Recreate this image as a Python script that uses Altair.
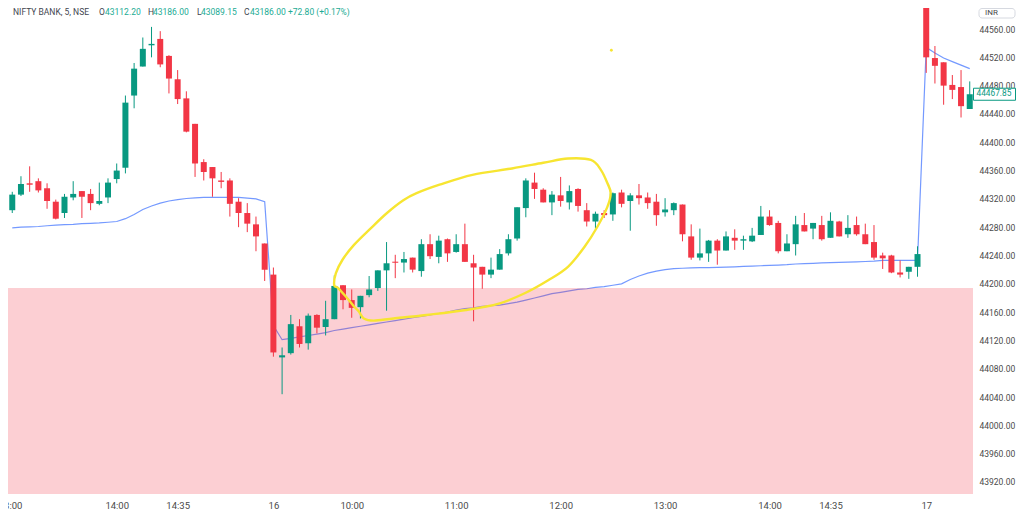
import altair as alt
import numpy as np
import pandas as pd

# ---------------- data ----------------
opens = [44304, 44326, 44342, 44345, 44335, 44316, 44300, 44322, 44331, 44327,
         44313, 44322, 44348, 44364, 44466, 44507, 44537, 44546, 44522, 44489,
         44462, 44426, 44372, 44365, 44346, 44346, 44316, 44300, 44284, 44257,
         44213, 44096, 44102, 44140, 44116, 44156, 44139, 44150, 44198, 44177,
         44167, 44184, 44194, 44219, 44231, 44230, 44237, 44218, 44256, 44238,
         44263, 44245, 44256, 44229, 44224, 44213, 44220, 44243, 44264, 44307,
         44343, 44333, 44315, 44325, 44315, 44334, 44304, 44288, 44300, 44298,
         44329, 44317, 44325, 44322, 44316, 44301, 44304, 44312, 44267, 44237,
         44243, 44261, 44247, 44265, 44261, 44260, 44269, 44295, 44286, 44246,
         44256, 44283, 44278, 44283, 44265, 44288, 44270, 44283, 44270, 44259,
         44240, 44240, 44216, 44217, 44224, 44591, 44519, 44513, 44481, 44478,
         44447]
highs = [44330, 44352, 44366, 44349, 44342, 44319, 44327, 44345, 44331, 44334,
         44343, 44349, 44370, 44466, 44512, 44548, 44563, 44557, 44523, 44502,
         44472, 44426, 44376, 44365, 44358, 44349, 44321, 44314, 44295, 44257,
         44223, 44110, 44156, 44150, 44158, 44157, 44176, 44212, 44198, 44192,
         44183, 44211, 44219, 44259, 44241, 44245, 44237, 44263, 44270, 44268,
         44264, 44270, 44285, 44241, 44224, 44237, 44249, 44270, 44308, 44349,
         44357, 44335, 44331, 44351, 44339, 44335, 44314, 44302, 44304, 44329,
         44333, 44328, 44341, 44329, 44327, 44321, 44315, 44312, 44284, 44278,
         44262, 44263, 44274, 44277, 44268, 44279, 44310, 44304, 44289, 44270,
         44296, 44300, 44286, 44296, 44301, 44289, 44297, 44295, 44285, 44283,
         44244, 44241, 44233, 44224, 44253, 44591, 44536, 44513, 44495, 44502,
         44486]
lows = [44300, 44324, 44330, 44329, 44306, 44291, 44293, 44318, 44293, 44304,
        44311, 44314, 44342, 44356, 44448, 44507, 44520, 44506, 44469, 44454,
        44414, 44351, 44346, 44323, 44335, 44295, 44280, 44273, 44246, 44204,
        44097, 44044, 44100, 44110, 44107, 44130, 44127, 44150, 44164, 44152,
        44151, 44181, 44190, 44162, 44208, 44216, 44216, 44210, 44235, 44229,
        44231, 44244, 44231, 44147, 44193, 44208, 44220, 44240, 44261, 44294,
        44320, 44315, 44297, 44309, 44305, 44302, 44281, 44278, 44293, 44289,
        44308, 44275, 44312, 44306, 44282, 44295, 44297, 44260, 44234, 44233,
        44231, 44227, 44247, 44248, 44248, 44259, 44269, 44282, 44243, 44246,
        44240, 44274, 44263, 44261, 44265, 44267, 44265, 44268, 44256, 44234,
        44221, 44215, 44209, 44207, 44210, 44498, 44483, 44453, 44461, 44435,
        44447]
closes = [44326, 44341, 44340, 44332, 44317, 44292, 44323, 44327, 44323, 44314,
          44317, 44343, 44360, 44456, 44504, 44532, 44539, 44510, 44490, 44461,
          44415, 44370, 44358, 44349, 44344, 44313, 44300, 44285, 44267, 44220,
          44103, 44099, 44143, 44115, 44155, 44138, 44150, 44197, 44177, 44166,
          44183, 44192, 44219, 44229, 44230, 44235, 44220, 44256, 44239, 44261,
          44243, 44256, 44231, 44223, 44213, 44220, 44242, 44263, 44308, 44346,
          44334, 44315, 44326, 44317, 44331, 44310, 44288, 44299, 44297, 44328,
          44313, 44325, 44321, 44314, 44297, 44305, 44314, 44270, 44237, 44243,
          44261, 44247, 44267, 44261, 44263, 44268, 44295, 44283, 44246, 44257,
          44284, 44274, 44286, 44263, 44289, 44267, 44279, 44270, 44256, 44237,
          44236, 44216, 44213, 44224, 44242, 44520, 44508, 44480, 44474, 44451,
          44467.85]
vwap = [44279, 44280, 44280.5, 44281, 44282, 44283, 44283.5, 44284, 44285, 44285.5,
        44286, 44287, 44288, 44292, 44298, 44305, 44310, 44314, 44317, 44319,
        44320.5, 44321.5, 44322, 44322, 44322, 44322, 44322, 44321, 44320, 44316,
        44141, 44121, 44123, 44125, 44127, 44129, 44131, 44134, 44136, 44138,
        44140, 44142, 44144, 44146, 44148, 44150, 44152, 44154, 44156, 44158,
        44160, 44163, 44165, 44166, 44168, 44169, 44170, 44172, 44174, 44177,
        44180, 44183, 44186, 44188, 44190, 44192, 44193, 44195, 44196, 44198,
        44200, 44206, 44211, 44215, 44218, 44220, 44221.5, 44222, 44222.5, 44222.8,
        44223, 44223.3, 44223.6, 44224, 44224.5, 44225, 44225.5, 44226, 44226.5, 44227,
        44228, 44228.5, 44229, 44229.5, 44230, 44230.3, 44230.6, 44231, 44231.5, 44232,
        44233, 44233, 44233, 44233, 44233, 44534, 44526, 44519, 44514, 44509,
        44504]
candle_index = list(range(1, len(opens) + 1))

time_tick_index = [0.75, 13, 20, 31, 40, 52, 64, 76, 88, 95, 106]
time_tick_labels = ["13:00", "14:00", "14:35", "16", "10:00", "11:00",
                    "12:00", "13:00", "14:00", "14:35", "17"]
price_ticks = list(range(43920, 44561, 40))

zone_index = [0, 112]
zone_low, zone_high = 43899, 44194

ellipse_index = [37.99, 38.18, 38.94, 40.26, 42.15, 44.05, 45.93, 47.45, 50.09, 53.87,
                 58.41, 62.0, 64.84, 67.48, 68.62, 69.38, 69.75, 69.38, 68.24, 66.73,
                 64.84, 62.57, 59.93, 56.9, 53.12, 48.58, 44.79, 42.53, 41.39, 40.82,
                 40.26, 39.32, 38.44]
ellipse_price = [44198, 44215, 44234, 44255, 44278, 44300, 44318, 44328, 44340, 44354,
                 44363, 44371, 44377, 44375, 44361, 44342, 44328, 44309, 44281, 44252,
                 44224, 44205, 44187, 44172, 44163, 44156, 44151, 44148, 44151, 44161,
                 44168, 44182, 44194]
dot_index = [69.83]
dot_price = [44530]

header_texts = ["NIFTY BANK, 5, NSE", "O", "43112.20", "H", "43186.00",
                "L", "43089.15", "C", "43186.00", "+72.80 (+0.17%)"]
currency = "INR"

# ---------------- styling / layout ----------------
W, H = 965, 486
RIGHT_PAD, BOTTOM_PAD = 43, 16
UP, DOWN = "#089981", "#f23645"
FONT = "Roboto"
TEXT_GREY = "#4a4a4a"
header_x = [5, 91, 97, 140, 145, 189, 193, 236, 242, 280]
header_colors = ["#42464f", "#42464f", "#22ab94", "#42464f", "#22ab94",
                 "#42464f", "#22ab94", "#42464f", "#22ab94", "#22ab94"]

df = pd.DataFrame({"i": candle_index, "o": opens, "h": highs, "l": lows,
                   "c": closes, "vwap": vwap})
df["dir"] = np.where(df["c"] >= df["o"], "up", "down")
mid = (df["o"] + df["c"]) / 2
half = np.maximum((df["o"] - df["c"]).abs() / 2, 0.75)
df["btop"] = mid + half
df["bbot"] = mid - half

X = alt.Scale(domain=[1.085, 110.8], nice=False, zero=False)
Y = alt.Scale(domain=[43903.0, 44589.7], nice=False, zero=False)
COL = alt.Color("dir:N", scale=alt.Scale(domain=["up", "down"], range=[UP, DOWN]), legend=None)

label_expr = "".join(f"datum.value == {v} ? '{t}' : " for v, t in zip(time_tick_index, time_tick_labels)) + "''"

x_axis = alt.Axis(values=time_tick_index, labelExpr=label_expr, title=None, grid=False,
                  ticks=False, tickSize=0, domain=False, labelFlush=False, labelOverlap=False,
                  labelPadding=6, labelFontSize=9.5, labelColor=TEXT_GREY, labelFont=FONT)
y_axis = alt.Axis(orient="right", values=price_ticks, format=".2f", title=None, grid=False,
                  ticks=False, tickSize=0, domain=False, labelPadding=6, labelFontSize=8.5,
                  labelColor=TEXT_GREY, labelFont=FONT, labelOverlap=False, labelFlush=False)


def xq(field):
    return alt.X(field, scale=X, axis=x_axis)


def yq(field):
    return alt.Y(field, scale=Y, axis=y_axis)


base = alt.Chart(df)

vwap_line = base.mark_line(color="#2962ff", strokeWidth=1.2, opacity=0.65, clip=True).encode(
    x=xq("i:Q"), y=yq("vwap:Q"))

zone_df = pd.DataFrame({"x0": [zone_index[0]], "x1": [zone_index[1]],
                        "y0": [zone_low], "y1": [zone_high]})
zone = alt.Chart(zone_df).mark_rect(color="#f23645", opacity=0.24, clip=True).encode(
    x=xq("x0:Q"), x2="x1:Q", y=yq("y0:Q"), y2="y1:Q")

wicks = base.mark_rule(strokeWidth=1, clip=True).encode(
    x=xq("i:Q"), y=yq("l:Q"), y2="h:Q", color=COL)

bodies = base.mark_bar(size=6, clip=True).encode(
    x=xq("i:Q"), y=yq("bbot:Q"), y2="btop:Q", color=COL)

ell_df = pd.DataFrame({"k": list(range(len(ellipse_index))), "x": ellipse_index, "y": ellipse_price})
ellipse = alt.Chart(ell_df).mark_line(color="#f7e531", strokeWidth=2.4,
                                      interpolate="cardinal-closed", clip=True).encode(
    x=xq("x:Q"), y=yq("y:Q"), order="k:Q")

dot = alt.Chart(pd.DataFrame({"x": dot_index, "y": dot_price})).mark_point(
    filled=True, size=8, color="#f7e531", opacity=1).encode(x=xq("x:Q"), y=yq("y:Q"))

# header texts
header_layers = []
for txt, px, colr in zip(header_texts, header_x, header_colors):
    header_layers.append(
        alt.Chart(pd.DataFrame({"t": [txt]})).mark_text(
            align="left", baseline="middle", font=FONT, fontSize=8.5, color=colr).encode(
            text="t:N", x=alt.value(px), y=alt.value(3.5)))

# currency box
cur_df = pd.DataFrame({"t": [currency]})
cur_box = alt.Chart(cur_df).mark_rect(fill="white", stroke="#d6d9e0", strokeWidth=1,
                                      cornerRadius=3).encode(
    x=alt.value(W + 6), x2=alt.value(W + RIGHT_PAD - 1), y=alt.value(0.5), y2=alt.value(10))
cur_txt = alt.Chart(cur_df).mark_text(align="left", baseline="middle", font=FONT,
                                      fontSize=8, color=TEXT_GREY).encode(
    text="t:N", x=alt.value(W + 12), y=alt.value(5))

# last price marker
last_df = pd.DataFrame({"p": [closes[-1]], "lab": [f"{closes[-1]:.2f}"]})
last_df["p0"] = last_df["p"] - 8.5
last_df["p1"] = last_df["p"] + 8.5
last_box = alt.Chart(last_df).mark_rect(fill="white", stroke=UP, strokeWidth=1).encode(
    x=alt.value(W + 0.5), x2=alt.value(W + RIGHT_PAD - 0.5),
    y=yq("p0:Q"), y2="p1:Q")
last_txt = alt.Chart(last_df).mark_text(align="left", baseline="middle", font=FONT,
                                        fontSize=8.3, color=UP).encode(
    text="lab:N", x=alt.value(W + 3.5), y=yq("p:Q"))

chart = alt.layer(vwap_line, zone, wicks, bodies, ellipse, dot, *header_layers,
                  cur_box, cur_txt, last_box, last_txt).properties(
    width=W, height=H,
    autosize=alt.AutoSizeParams(type="none"),
    padding={"left": 0, "top": 0, "right": RIGHT_PAD, "bottom": BOTTOM_PAD},
    background="white",
).configure_view(stroke=None)

chart.save("out.html", embed_options={"renderer": "svg", "actions": False})
